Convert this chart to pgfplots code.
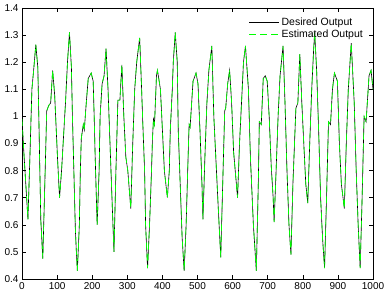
\documentclass[border=0pt]{standalone}
\usepackage{pgfplots}
\pgfplotsset{compat=1.18}
\usepackage{pgfplotstable}
\usepackage{fontspec}
\setmainfont{Liberation Sans}
\pgfplotstableread{
x y
0 0.99
5.6 0.86
11.3 0.74
16.9 0.62
22.5 0.85
28.2 1.10
33.8 1.18
39.4 1.265
45.1 1.18
47.9 1.00
53.5 0.62
59.2 0.475
64.8 0.74
70.4 1.02
76.1 1.04
81.7 1.05
87.3 1.17
93.0 1.08
95.8 1.00
101.4 0.84
107.0 0.70
112.7 0.80
123.9 1.05
129.6 1.20
135.2 1.31
140.8 1.18
143.7 1.00
149.3 0.72
152.1 0.58
154.9 0.50
157.7 0.43
163.4 0.60
166.2 0.80
169.0 0.92
174.7 0.97
177.5 0.95
183.1 1.05
188.7 1.14
197.2 1.16
202.8 1.13
205.6 1.00
208.5 0.85
214.1 0.60
219.7 0.80
222.5 1.00
228.2 1.12
233.8 1.15
239.4 1.25
245.1 1.10
250.7 0.90
256.3 0.70
262.0 0.50
267.6 0.80
273.2 1.06
278.9 1.06
284.5 1.19
290.1 1.00
295.8 0.85
301.4 0.80
309.9 0.66
315.5 0.90
321.1 1.10
326.8 1.20
335.2 1.29
340.8 1.10
343.7 0.99
349.3 0.80
352.1 0.60
357.7 0.44
363.4 0.60
369.0 0.80
371.8 0.92
374.6 0.99
377.5 0.97
383.1 1.15
385.9 1.17
394.4 1.10
400.0 0.95
405.6 0.80
414.1 0.70
419.7 0.80
422.5 0.95
428.2 1.10
431.0 1.20
436.6 1.31
442.3 1.20
445.1 0.95
450.7 0.75
456.3 0.55
462.0 0.43
467.6 0.60
473.2 0.85
476.1 0.97
478.9 0.96
487.3 1.13
495.8 1.16
501.4 1.12
507.0 0.95
512.7 0.75
515.5 0.62
521.1 0.85
526.8 1.05
532.4 1.17
540.8 1.26
546.5 1.00
552.1 0.85
557.7 0.70
566.2 0.48
571.8 0.75
577.5 1.02
580.3 1.03
585.9 1.12
591.5 1.17
597.2 1.05
602.8 0.87
614.1 0.70
619.7 0.90
625.4 1.05
631.0 1.20
636.6 1.26
645.1 1.10
650.7 0.85
659.2 0.60
667.6 0.43
673.2 0.75
676.1 0.98
681.7 0.97
687.3 1.14
693.0 1.15
698.6 1.13
704.2 1.00
709.9 0.82
715.5 0.70
718.3 0.61
723.9 0.80
729.6 1.00
735.2 1.15
743.7 1.26
749.3 1.05
754.9 0.80
760.6 0.60
766.2 0.49
771.8 0.75
780.3 1.03
785.9 1.05
791.5 1.23
797.2 1.05
802.8 0.90
808.5 0.75
814.1 0.68
819.7 0.90
825.4 1.10
831.0 1.25
833.8 1.31
839.4 1.17
845.1 0.95
850.7 0.70
856.3 0.55
862.0 0.44
867.6 0.70
873.2 0.98
878.9 0.97
884.5 1.10
890.1 1.16
898.6 1.13
904.2 0.90
909.9 0.75
918.3 0.66
923.9 0.90
929.6 1.10
938.0 1.27
946.5 1.05
952.1 0.80
957.7 0.60
963.4 0.44
969.0 0.70
974.6 1.00
980.3 0.98
988.7 1.15
994.4 1.17
1000 1.10
}\signal
\definecolor{estgreen}{RGB}{0,255,0}
\begin{document}
\begin{tikzpicture}
\begin{axis}[
  name=ax,
  width=351pt, height=271pt, scale only axis,
  xmin=0, xmax=1000, ymin=0.4, ymax=1.4,
  xtick={0,100,...,1000},
  ytick={0.4,0.5,0.6,0.7,0.8,0.9,1,1.1,1.2,1.3,1.4},
  /pgf/number format/1000 sep={},
  tick style={black, line width=0.5pt},
  axis line style={line width=0.6pt},
  ticklabel style={font=\fontsize{10}{12}\selectfont},
  /pgf/number format/assume math mode=true,
  legend style={draw=none, fill=none, font=\fontsize{10.5}{12}\selectfont,
    at={(0.98,0.975)}, anchor=north east, row sep=-1pt, inner sep=1pt},
  legend cell align=left,
  legend image code/.code={\draw[#1] (0pt,0pt) -- (30pt,0pt);},
]
\addplot[black, line width=0.6pt] table[x=x,y=y]{\signal};
\addlegendentry{Desired Output}
\addplot[estgreen, line width=0.7pt, dash pattern=on 7pt off 4pt] table[x=x,y=y]{\signal};
\addlegendentry{Estimated Output}
\end{axis}
\pgfresetboundingbox
\path[use as bounding box] ([xshift=-22pt,yshift=-17pt]ax.south west) rectangle ([xshift=14pt,yshift=8pt]ax.north east);
\end{tikzpicture}
\end{document}
